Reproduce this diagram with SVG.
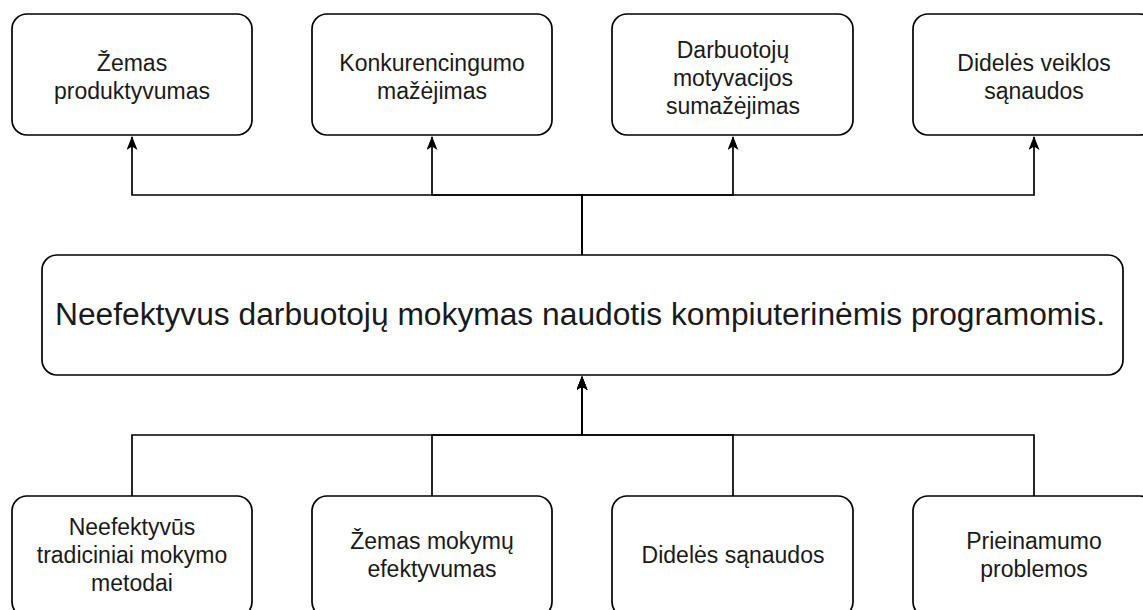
<svg xmlns="http://www.w3.org/2000/svg" width="1143" height="610" viewBox="0 0 1143 610">
<style>
.box{fill:#fff;stroke:#000;stroke-width:1.7}
.t{font-family:"Liberation Sans",Arial,sans-serif;font-size:23px;fill:#1a1a1a;text-anchor:middle}
.big{font-family:"Liberation Sans",Arial,sans-serif;font-size:31px;fill:#1a1a1a;text-anchor:middle}
.c{fill:none;stroke:#000;stroke-width:1.7}
</style>
<defs>
<marker id="ah" markerUnits="userSpaceOnUse" viewBox="0 0 14 11" refX="13" refY="5.5" markerWidth="14" markerHeight="11" orient="auto">
<path d="M0,0 L14,5.5 L0,11 L3.5,5.5 Z" fill="#000"/>
</marker>
</defs>
<rect width="1143" height="610" fill="#fff"/>
<g id="connectors">
<path class="c" d="M582,255 V195 H132 V137" marker-end="url(#ah)"/>
<path class="c" d="M582,255 V195 H432 V137" marker-end="url(#ah)"/>
<path class="c" d="M582,255 V195 H733 V137" marker-end="url(#ah)"/>
<path class="c" d="M582,255 V195 H1034 V137" marker-end="url(#ah)"/>
<path class="c" d="M132,496 V435 H582 V377" marker-end="url(#ah)"/>
<path class="c" d="M432,496 V435 H582 V377" marker-end="url(#ah)"/>
<path class="c" d="M733,496 V435 H582 V377" marker-end="url(#ah)"/>
<path class="c" d="M1034,496 V435 H582 V377" marker-end="url(#ah)"/>
</g>
<g id="top1"><rect class="box" x="12" y="14" width="240" height="121" rx="15"/>
<text class="t" x="132" y="71">Žemas</text><text class="t" x="132" y="99">produktyvumas</text></g>
<g id="top2"><rect class="box" x="312" y="14" width="240" height="121" rx="15"/>
<text class="t" x="432" y="71">Konkurencingumo</text><text class="t" x="432" y="99">mažėjimas</text></g>
<g id="top3"><rect class="box" x="612" y="14" width="241" height="121" rx="15"/>
<text class="t" x="733" y="58">Darbuotojų</text><text class="t" x="733" y="86">motyvacijos</text><text class="t" x="733" y="114">sumažėjimas</text></g>
<g id="top4"><rect class="box" x="913" y="14" width="242" height="121" rx="15"/>
<text class="t" x="1034" y="71">Didelės veiklos</text><text class="t" x="1034" y="99">sąnaudos</text></g>
<g id="main"><rect class="box" x="42" y="255" width="1081" height="120" rx="15"/>
<text class="big" x="580" y="325" textLength="1050" lengthAdjust="spacingAndGlyphs">Neefektyvus darbuotojų mokymas naudotis kompiuterinėmis programomis.</text></g>
<g id="bot1"><rect class="box" x="12" y="496" width="240" height="121" rx="15"/>
<text class="t" x="132" y="535">Neefektyvūs</text><text class="t" x="132" y="563">tradiciniai mokymo</text><text class="t" x="132" y="591">metodai</text></g>
<g id="bot2"><rect class="box" x="312" y="496" width="240" height="121" rx="15"/>
<text class="t" x="432" y="549">Žemas mokymų</text><text class="t" x="432" y="577">efektyvumas</text></g>
<g id="bot3"><rect class="box" x="612" y="496" width="241" height="121" rx="15"/>
<text class="t" x="733" y="563">Didelės sąnaudos</text></g>
<g id="bot4"><rect class="box" x="913" y="496" width="242" height="121" rx="15"/>
<text class="t" x="1034" y="549">Prieinamumo</text><text class="t" x="1034" y="577">problemos</text></g>
</svg>
